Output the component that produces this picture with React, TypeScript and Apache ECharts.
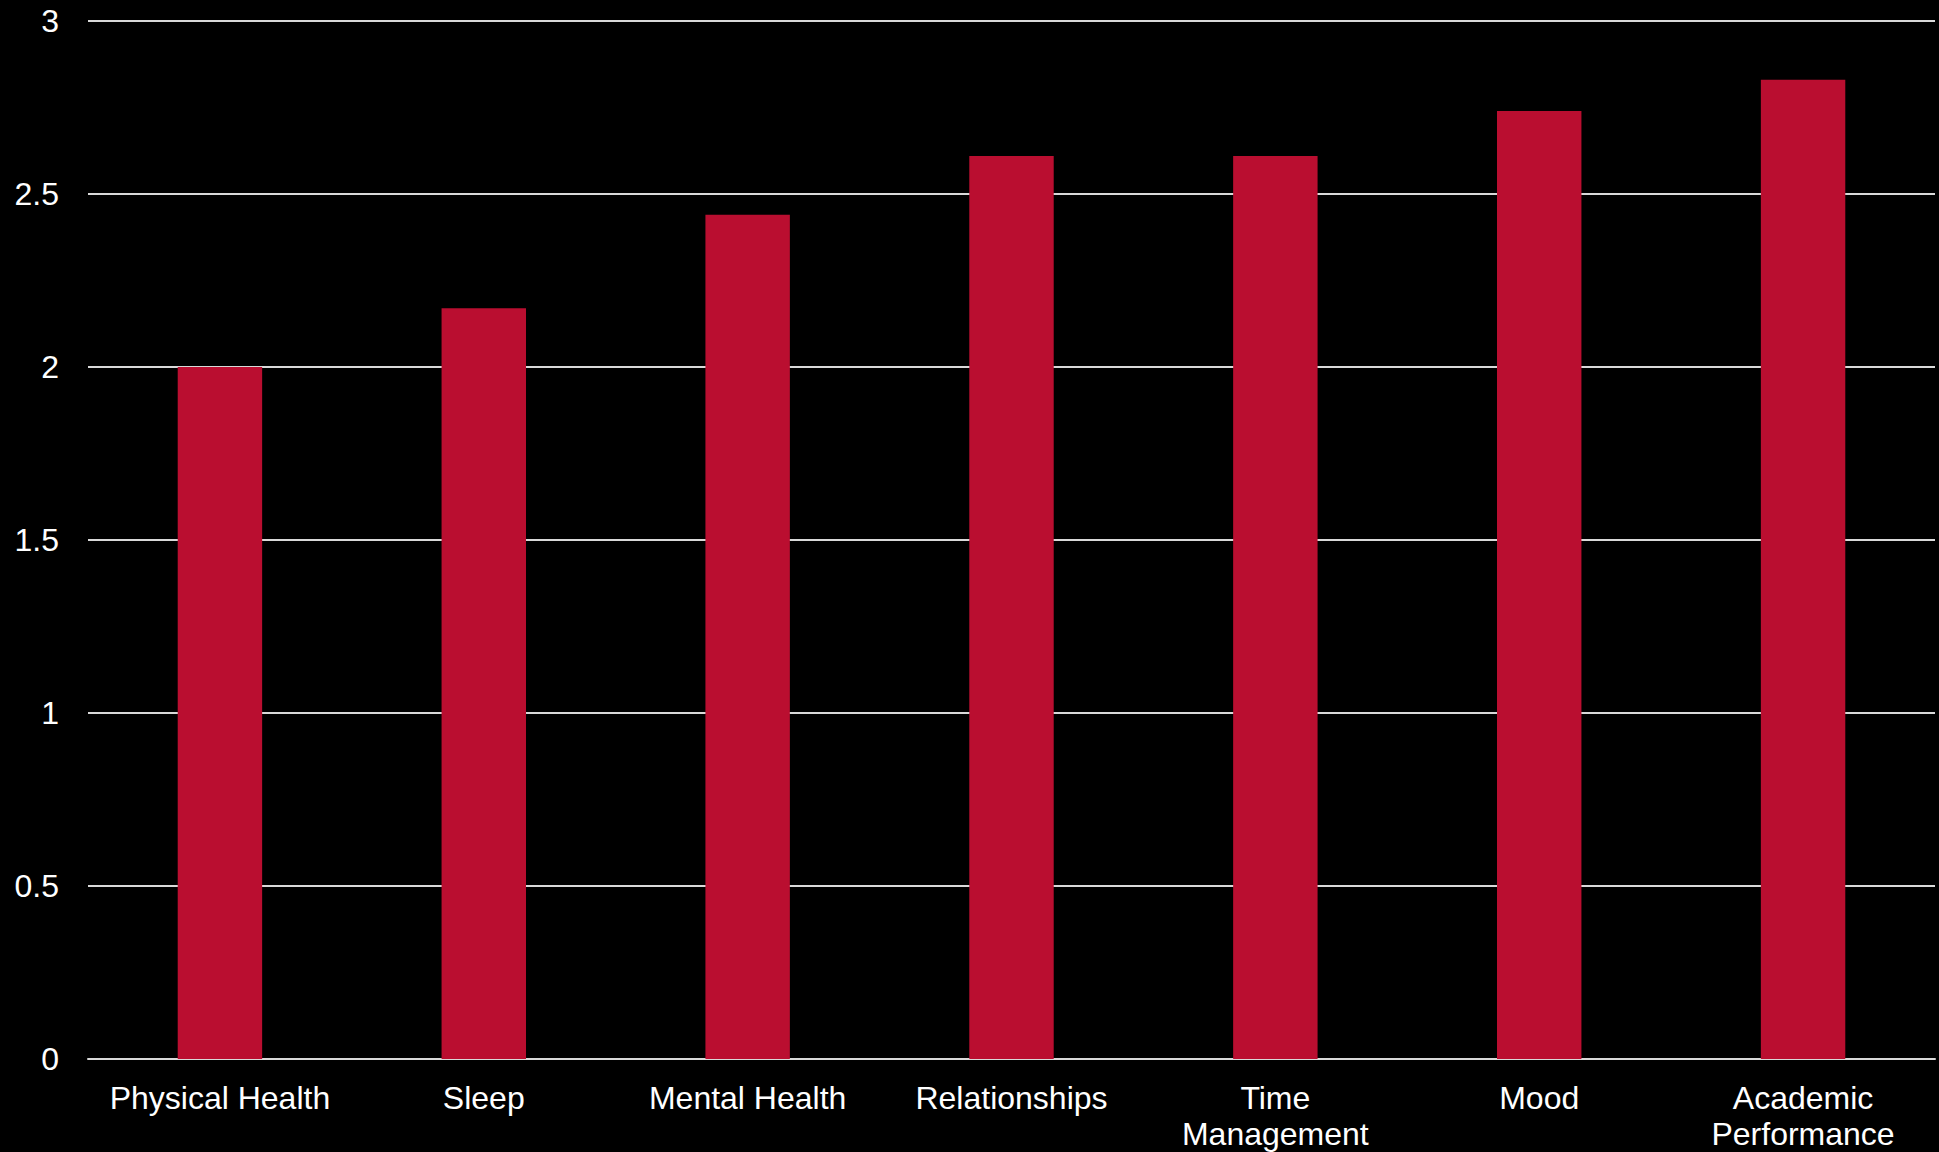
import React, { useEffect, useRef } from "react";
import * as echarts from "echarts";

const categories = [
  "Physical Health",
  "Sleep",
  "Mental Health",
  "Relationships",
  "Time Management",
  "Mood",
  "Academic Performance",
];
const values = [2.0, 2.17, 2.44, 2.61, 2.61, 2.74, 2.83];
const yMin = 0;
const yMax = 3;
const yInterval = 0.5;

const FONT = "Liberation Sans, Arial, sans-serif";

function wrapLabel(v: string): string {
  const canvas = document.createElement("canvas");
  const ctx = canvas.getContext("2d");
  if (!ctx) return v;
  ctx.font = `32px ${FONT}`;
  if (ctx.measureText(v).width <= 240) return v;
  const words = v.split(" ");
  const lines: string[] = [];
  let cur = "";
  for (const w of words) {
    const test = cur ? cur + " " + w : w;
    if (cur && ctx.measureText(test).width > 240) {
      lines.push(cur);
      cur = w;
    } else {
      cur = test;
    }
  }
  if (cur) lines.push(cur);
  return lines.join("\n");
}

export default function App() {
  const ref = useRef<HTMLDivElement>(null);
  useEffect(() => {
    document.body.style.margin = "0";
    document.body.style.background = "#000";
    if (!ref.current) return;
    const chart = echarts.init(ref.current, null, { renderer: "svg" });
    chart.setOption({
      animation: false,
      backgroundColor: "#000000",
      grid: { left: 88, right: 4, top: 21, bottom: 93, containLabel: false },
      xAxis: {
        type: "category",
        data: categories,
        axisLine: { show: true, lineStyle: { color: "#d9d9d9", width: 2 } },
        axisTick: { show: false },
        axisLabel: {
          interval: 0,
          color: "#ffffff",
          fontFamily: FONT,
          fontSize: 32,
          lineHeight: 36,
          margin: 21,
          formatter: (v: string) => wrapLabel(v),
        },
      },
      yAxis: {
        type: "value",
        min: yMin,
        max: yMax,
        interval: yInterval,
        axisLine: { show: false },
        axisTick: { show: false },
        splitLine: { show: true, lineStyle: { color: "#d9d9d9", width: 2 } },
        axisLabel: {
          color: "#ffffff",
          fontFamily: FONT,
          fontSize: 32,
          margin: 29,
        },
      },
      series: [
        {
          type: "bar",
          data: values,
          barWidth: "32%",
          itemStyle: { color: "#BA0E30" },
        },
      ],
    });
    return () => chart.dispose();
  }, []);
  return <div ref={ref} style={{ width: 1939, height: 1152 }} />;
}
